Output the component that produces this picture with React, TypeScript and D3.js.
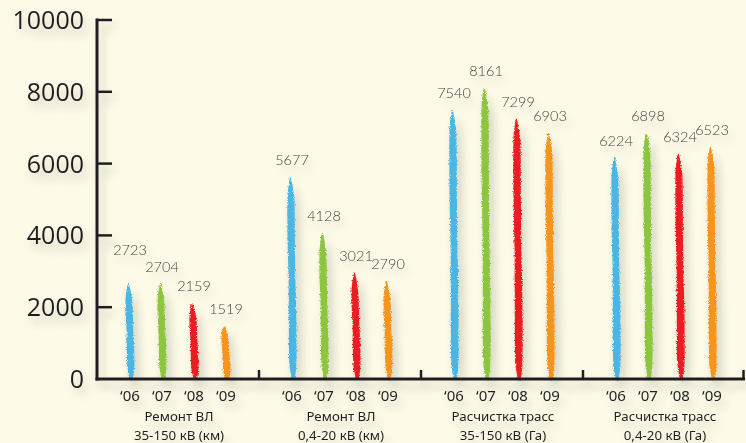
import React from "react";
import * as d3 from "d3";

const groupLine1 = ["Ремонт ВЛ", "Ремонт ВЛ", "Расчистка трасс", "Расчистка трасс"];
const groupLine2 = ["35-150 кВ (км)", "0,4-20 кВ (км)", "35-150 кВ (Га)", "0,4-20 кВ (Га)"];
const years = ["‘06", "‘07", "‘08", "‘09"];
const values06 = [2723, 5677, 7540, 6224];
const values07 = [2704, 4128, 8161, 6898];
const values08 = [2159, 3021, 7299, 6324];
const values09 = [1519, 2790, 6903, 6523];
const yTicks = [0, 2000, 4000, 6000, 8000, 10000];

const series = [values06, values07, values08, values09];
const colors = ["#4cb6e4", "#8cc63f", "#ed1c24", "#f7941d"];

const W = 746;
const H = 443;
const axisX = 97;
const axisRight = 745;
const yTop = 20;
const yBase = 379;

function brushPath(cx: number, top: number, bottom: number): string {
  const len = bottom - top;
  const tap = Math.min(22, len * 0.2);
  const bt = Math.min(14, len * 0.12);
  // [distance from top in px, width, x-offset]
  const prof: [number, number, number][] = [
    [0, 0.5, -1.6],
    [tap * 0.3, 3.5, -1.5],
    [tap * 0.7, 6, -1.3],
    [tap, 7, -1.1],
    [len * 0.35, 7.3, -0.6],
    [len * 0.5, 6.8, 0],
    [len * 0.65, 7.5, 0.5],
    [len - bt, 6.8, 1],
    [len - bt * 0.4, 4.5, 1.2],
    [len, 2, 1.2],
  ];
  const left: [number, number][] = [];
  const right: [number, number][] = [];
  prof.forEach(([d, w, dx]) => {
    const y = top + d;
    const x = cx + dx;
    left.push([x - w / 2, y]);
    right.push([x + w / 2, y]);
  });
  const pts = [...right, ...left.reverse()];
  const line = d3.line().curve(d3.curveCatmullRomClosed.alpha(0.5));
  return line(pts) || "";
}

export default function App() {
  const y = d3.scaleLinear().domain([0, 10000]).range([yBase, yTop]);
  const xg = d3.scaleBand<number>().domain([0, 1, 2, 3]).range([axisX, axisRight]).padding(0);
  const bw = xg.bandwidth();
  const inner = d3.scaleBand<number>().domain([0, 1, 2, 3]).range([0, 128]).padding(0);
  const off = (bw - 128) / 2;
  const cx = (g: number, s: number) => (xg(g) as number) + off + (inner(s) as number) + inner.bandwidth() / 2;

  const labelY = (g: number, s: number) => {
    const v = series[s][g];
    let ly = y(v) - 10;
    if (s < 3) {
      const vn = series[s + 1][g];
      if (Math.abs(y(v) - y(vn)) < 4) ly -= 16;
    }
    return ly;
  };

  return (
    <svg width={W} height={H} style={{ position: "absolute", left: 0, top: 0, background: "#fdfbe8" }}>
      <defs>
        <filter id="shadow" x="-50%" y="-50%" width="200%" height="200%">
          <feGaussianBlur in="SourceAlpha" stdDeviation="5" />
          <feOffset dx="4" dy="7" result="b" />
          <feComponentTransfer>
            <feFuncA type="linear" slope="0.2" />
          </feComponentTransfer>
          <feMerge>
            <feMergeNode />
            <feMergeNode in="SourceGraphic" />
          </feMerge>
        </filter>
        <filter id="rough" x="-50%" y="-10%" width="200%" height="120%">
          <feTurbulence type="fractalNoise" baseFrequency="1.4 0.7" numOctaves="2" seed="5" result="n" />
          <feDisplacementMap in="SourceGraphic" in2="n" scale="3.5" xChannelSelector="R" yChannelSelector="G" />
        </filter>
      </defs>
      <rect x={0} y={0} width={W} height={H} fill="#fdfbe8" />
      <g filter="url(#shadow)">
        {series.map((vals, s) =>
          vals.map((v, g) => (
            <path
              key={`b${s}-${g}`}
              d={brushPath(cx(g, s), y(v) + 2, yBase + 1)}
              fill={colors[s]}
              filter="url(#rough)"
            />
          ))
        )}
        <line x1={axisX} x2={axisX} y1={yTop - 1.5} y2={yBase + 1.5} stroke="#231f20" strokeWidth={3} />
        <line x1={axisX - 1.5} x2={axisRight} y1={yBase} y2={yBase} stroke="#231f20" strokeWidth={3} />
        {yTicks.map((t) => (
          <g key={`yt${t}`}>
            {t > 0 && <line x1={axisX} x2={112} y1={y(t)} y2={y(t)} stroke="#231f20" strokeWidth={2.5} />}
            <text
              x={84}
              y={y(t)}
              dy="0.36em"
              textAnchor="end"
              fontFamily="'Open Sans', sans-serif"
              fontSize={25}
              fill="#231f20"
            >
              {t}
            </text>
          </g>
        ))}
        {[1, 2, 3, 4].map((g) => {
          const xx = g < 4 ? (xg(g) as number) : axisRight - 1.5;
          return <line key={`sep${g}`} x1={xx} x2={xx} y1={370} y2={yBase} stroke="#231f20" strokeWidth={2.5} />;
        })}
        {series.map((vals, s) =>
          vals.map((v, g) => (
            <text
              key={`v${s}-${g}`}
              x={cx(g, s)}
              y={labelY(g, s)}
              textAnchor="middle"
              fontFamily="Lato, 'Open Sans', sans-serif"
              fontWeight={300}
              fontSize={14.5}
              fill="#444446"
            >
              {v}
            </text>
          ))
        )}
        {[0, 1, 2, 3].map((g) =>
          years.map((yr, s) => (
            <text
              key={`yr${g}-${s}`}
              x={cx(g, s)}
              y={401}
              textAnchor="middle"
              fontFamily="'Noto Sans', sans-serif"
              fontSize={15}
              fill="#231f20"
            >
              {yr}
            </text>
          ))
        )}
        {[0, 1, 2, 3].map((g) => {
          const c = (xg(g) as number) + bw / 2 + 1;
          return (
            <g key={`gl${g}`}>
              <text x={c} y={421} textAnchor="middle" fontFamily="'Noto Sans', sans-serif" fontSize={13.3} fill="#231f20">
                {groupLine1[g]}
              </text>
              <text x={c} y={439.5} textAnchor="middle" fontFamily="'Noto Sans', sans-serif" fontSize={13.3} fill="#231f20">
                {groupLine2[g]}
              </text>
            </g>
          );
        })}
      </g>
    </svg>
  );
}
